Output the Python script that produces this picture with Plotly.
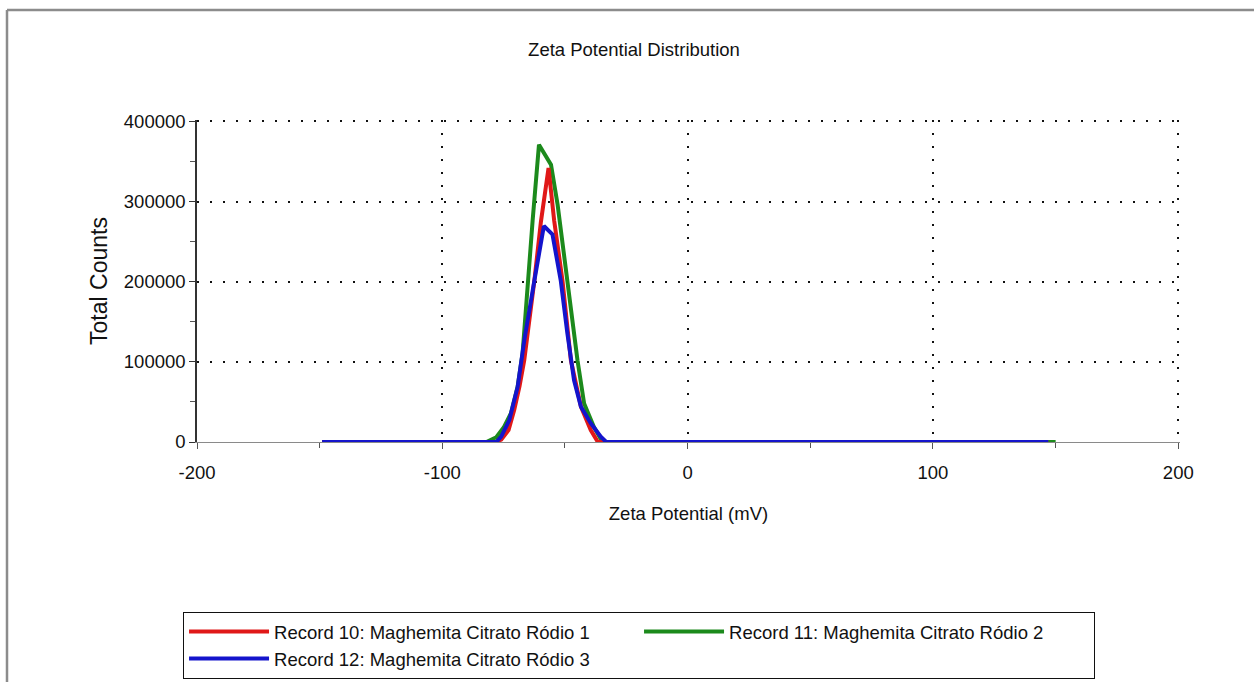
import plotly.graph_objects as go

# ---- data ----
x_red = [-149, -78, -76, -73, -70.7, -68.5, -66.6, -64.5, -62.5, -59.8, -56.7, -54.4, -51, -47.6, -43.5, -39.5, -36.6, 147]
y_red = [0, 0, 3000, 15000, 40000, 70000, 102000, 150000, 201000, 275000, 342000, 276000, 201000, 102000, 44000, 15000, 0, 0]

x_green = [-149, -82, -78, -75, -72, -69.3, -67.3, -65.2, -63.2, -60.6, -55.7, -53, -49, -44.9, -42.2, -38.2, -34.7, 150]
y_green = [0, 0, 6000, 18000, 36000, 69000, 110000, 201000, 276000, 371000, 346000, 296000, 201000, 102000, 48000, 18600, 0, 0]

x_blue = [-149, -78, -76, -72.7, -69.3, -66.6, -62.5, -58.6, -55.1, -51.7, -49, -46.3, -43.5, -39.5, -35.4, -33.2, 147]
y_blue = [0, 0, 6600, 27300, 68700, 126700, 201000, 269500, 259000, 201000, 135000, 77000, 44000, 23500, 6600, 0, 0]

names = ["Record 10: Maghemita Citrato Ródio 1",
         "Record 11: Maghemita Citrato Ródio 2",
         "Record 12: Maghemita Citrato Ródio 3"]
colors = ["#e01818", "#1c8a1c", "#1414cc"]

x_ticks = [-200, -100, 0, 100, 200]
y_ticks = [0, 100000, 200000, 300000, 400000]

FONT = "Liberation Sans, Arial, sans-serif"
FS = 18.5

fig = go.Figure()
# draw order: green, red, blue (blue on top); legend order via legendrank
fig.add_trace(go.Scatter(x=x_green, y=y_green, mode="lines", name=names[1],
                         line=dict(color=colors[1], width=4), legendrank=2))
fig.add_trace(go.Scatter(x=x_red, y=y_red, mode="lines", name=names[0],
                         line=dict(color=colors[0], width=4), legendrank=1))
fig.add_trace(go.Scatter(x=x_blue, y=y_blue, mode="lines", name=names[2],
                         line=dict(color=colors[2], width=4), legendrank=3))

fig.update_layout(
    width=1254, height=682,
    margin=dict(l=197, r=74, t=120, b=240, autoexpand=False),
    paper_bgcolor="white", plot_bgcolor="white",
    font=dict(family=FONT, size=FS, color="#111"),
    title=dict(text="Zeta Potential Distribution", x=634 / 1254, xanchor="center", xref="container",
               y=1 - 50 / 682, yanchor="middle", yref="container",
               font=dict(family=FONT, size=FS, color="#111")),
    showlegend=True,
    legend=dict(orientation="h", x=-0.0142, xanchor="left", y=-0.528, yanchor="top",
                bordercolor="#111", borderwidth=1, bgcolor="white",
                entrywidth=360, entrywidthmode="pixels", itemwidth=80,
                font=dict(family=FONT, size=FS, color="#111"),
                traceorder="normal"),
    xaxis=dict(range=[-200, 200.7], tickvals=x_ticks, ticktext=[str(v) for v in x_ticks],
               showgrid=True, gridcolor="#111", gridwidth=2, griddash="2px,11px",
               zeroline=False, showline=True, linecolor="#8a8a8a", linewidth=1,
               ticks="outside", ticklen=6, tickcolor="#555", tickwidth=1,
               minor=dict(tickvals=[-150, -50, 50, 150], ticks="outside", ticklen=5, tickcolor="#555", showgrid=False),
               ticklabelstandoff=8,
               title=dict(text="Zeta Potential (mV)", standoff=24,
                          font=dict(family=FONT, size=FS, color="#111"))),
    yaxis=dict(range=[0, 401800], tickvals=y_ticks, ticktext=[str(v) for v in y_ticks],
               showgrid=True, gridcolor="#111", gridwidth=2, griddash="2px,11px",
               zeroline=True, zerolinecolor="#8a8a8a", zerolinewidth=1,
               showline=True, linecolor="#333", linewidth=1.5,
               ticks="outside", ticklen=6, tickcolor="#333", tickwidth=1,
               minor=dict(tickvals=[50000, 150000, 250000, 350000], ticks="outside", ticklen=5,
                          tickcolor="#555", showgrid=False),
               title=dict(text="Total Counts", standoff=10,
                          font=dict(family=FONT, size=23, color="#111"))),
    shapes=[
        dict(type="line", xref="paper", yref="paper", x0=(7 - 197) / 983, x1=(1254 - 197) / 983,
             y0=(442 - 10) / 322, y1=(442 - 10) / 322, line=dict(color="#8c8c8c", width=2.5)),
        dict(type="line", xref="paper", yref="paper", x0=(7 - 197) / 983, x1=(7 - 197) / 983,
             y0=(442 - 10) / 322, y1=(442 - 690) / 322, line=dict(color="#8c8c8c", width=2.5)),
    ],
)

fig.write_html("out.html")
